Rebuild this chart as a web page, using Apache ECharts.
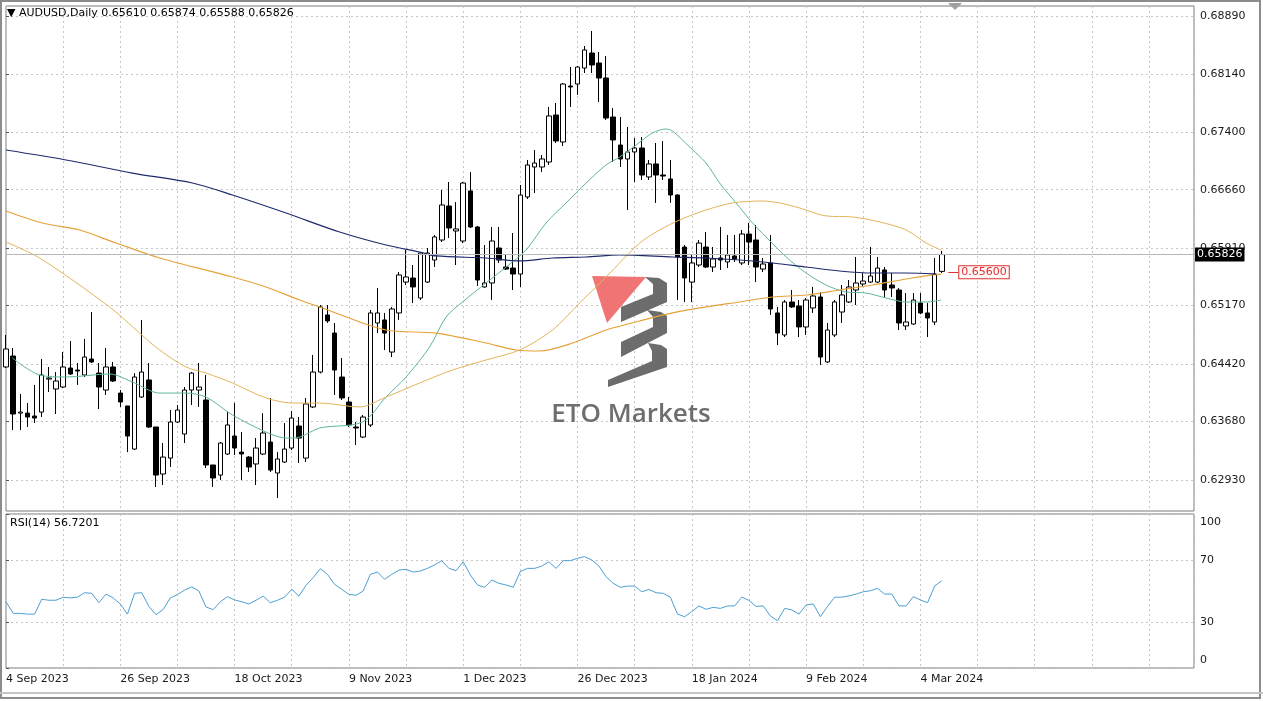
<!DOCTYPE html>
<html><head><meta charset="utf-8">
<style>html,body{margin:0;padding:0;background:#fff}#chart{width:1263px;height:701px}</style>
<script src="https://cdn.jsdelivr.net/npm/echarts@6.0.0/dist/echarts.min.js"></script>
</head><body><div id="chart"></div>
<script>
const symbolName = 'AUDUSD,Daily';
const dateLabels = ['4 Sep 2023','26 Sep 2023','18 Oct 2023','9 Nov 2023','1 Dec 2023','26 Dec 2023','18 Jan 2024','9 Feb 2024','4 Mar 2024'];
const labelStep = 16;
const priceTicks = [0.68890,0.68140,0.67400,0.66660,0.65910,0.65170,0.64420,0.63680,0.62930];
const rsiTicks = [0,30,70,100];
const alertPrice = 0.65600;

const open = [0.64382,0.64523,0.63790,0.63790,0.63752,0.63803,0.64227,0.64099,0.64125,0.64369,
0.64343,0.64279,0.64484,0.64304,0.64086,0.64382,0.64047,0.63881,0.63328,0.63996,
0.64215,0.63611,0.63007,0.63212,0.63675,0.63521,0.64086,0.64086,0.63958,0.63123,
0.62994,0.63264,0.63495,0.63289,0.63225,0.63136,0.63264,0.63418,0.63020,0.63161,
0.63341,0.63624,0.63212,0.63868,0.64317,0.65050,0.64818,0.64253,0.63932,0.63611,
0.63482,0.63637,0.64947,0.64986,0.64574,0.65076,0.65473,0.65525,0.65268,0.65473,
0.65756,0.66013,0.66450,0.66129,0.66000,0.66643,0.66180,0.65410,0.65461,0.65910,
0.65666,0.65653,0.65576,0.66566,0.66951,0.66951,0.67015,0.67619,0.67272,0.67991,
0.68017,0.68222,0.68415,0.68287,0.68094,0.67593,0.67233,0.67054,0.67144,0.67195,
0.66823,0.66990,0.66848,0.66797,0.66591,0.65923,0.65473,0.65692,0.65923,0.65666,
0.65782,0.65731,0.65808,0.65718,0.66090,0.66013,0.65640,0.65718,0.65076,0.64793,
0.65217,0.65165,0.64896,0.65140,0.65281,0.64446,0.64793,0.65088,0.65217,0.65371,
0.65448,0.65473,0.65473,0.65628,0.65435,0.65371,0.64909,0.64934,0.65204,0.65076,
0.64960,0.65610];
const high = [0.64793,0.64626,0.64035,0.63919,0.64151,0.64484,0.64382,0.64317,0.64574,0.64716,
0.64433,0.64742,0.65088,0.64433,0.64626,0.64446,0.64086,0.63881,0.64304,0.64986,
0.64433,0.63611,0.63405,0.63829,0.63894,0.64125,0.64317,0.64433,0.64279,0.63123,
0.63418,0.63803,0.63919,0.63546,0.63238,0.63469,0.63790,0.63984,0.63289,0.63662,
0.63816,0.63739,0.63984,0.64536,0.65178,0.65178,0.64947,0.64497,0.63996,0.63675,
0.63765,0.65114,0.65397,0.65076,0.65153,0.65602,0.65885,0.65692,0.65859,0.65910,
0.66077,0.66656,0.66758,0.66501,0.66758,0.66887,0.66193,0.65949,0.66180,0.66180,
0.65821,0.66103,0.66720,0.67041,0.67169,0.67105,0.67722,0.67773,0.68030,0.68235,
0.68248,0.68505,0.68698,0.68428,0.68377,0.67709,0.67593,0.67465,0.67323,0.67336,
0.67041,0.67259,0.67285,0.67041,0.66600,0.65949,0.65821,0.66013,0.66116,0.65923,
0.66180,0.66077,0.66077,0.66142,0.66232,0.66206,0.65782,0.66077,0.65153,0.65242,
0.65371,0.65242,0.65268,0.65410,0.65345,0.64947,0.65242,0.65435,0.65499,0.65795,
0.65589,0.65923,0.65795,0.65666,0.65589,0.65397,0.65332,0.65332,0.65332,0.65204,
0.65782,0.65874];
const low = [0.64369,0.63572,0.63572,0.63611,0.63662,0.63739,0.64060,0.63778,0.64110,0.64279,
0.64151,0.64253,0.64433,0.63842,0.64022,0.64189,0.63868,0.63289,0.63315,0.63984,
0.63598,0.62840,0.62866,0.63097,0.63662,0.63405,0.63894,0.63868,0.63084,0.62840,
0.62930,0.63251,0.63251,0.62930,0.63033,0.62866,0.63251,0.63033,0.62699,0.63148,
0.63315,0.63148,0.63161,0.63855,0.64300,0.64947,0.64022,0.63958,0.63611,0.63380,
0.63469,0.63611,0.64818,0.64600,0.64510,0.64986,0.65435,0.65203,0.65242,0.65461,
0.65666,0.65987,0.66039,0.65692,0.65974,0.66167,0.65422,0.65400,0.65242,0.65718,
0.65628,0.65371,0.65410,0.66540,0.66617,0.66887,0.66977,0.67259,0.67221,0.67722,
0.67876,0.68158,0.68158,0.67786,0.67555,0.67015,0.66951,0.66399,0.66758,0.66784,
0.66784,0.66489,0.66784,0.66489,0.65242,0.65217,0.65217,0.65666,0.65653,0.65602,
0.65628,0.65653,0.65731,0.65692,0.65692,0.65473,0.65602,0.65050,0.64664,0.64767,
0.65140,0.64767,0.64793,0.65076,0.64407,0.64433,0.64767,0.64947,0.65204,0.65178,
0.65410,0.65461,0.65461,0.65281,0.65281,0.64857,0.64857,0.64922,0.65060,0.64767,
0.64922,0.65588];
const close = [0.64613,0.63778,0.63803,0.63739,0.63726,0.64279,0.64240,0.64202,0.64382,0.64292,
0.64330,0.64510,0.64446,0.64125,0.64382,0.64202,0.63932,0.63495,0.64253,0.64317,
0.63611,0.62994,0.63225,0.63675,0.63829,0.64086,0.64304,0.64125,0.63123,0.62956,
0.63405,0.63637,0.63341,0.63264,0.63097,0.63341,0.63534,0.63058,0.63200,0.63328,
0.63726,0.63469,0.63907,0.64317,0.65153,0.64973,0.64343,0.63984,0.63637,0.63598,
0.63739,0.65076,0.65076,0.64818,0.65127,0.65564,0.65538,0.65410,0.65846,0.65846,
0.66052,0.66463,0.66167,0.66155,0.66745,0.66180,0.65499,0.65461,0.66000,0.65756,
0.65640,0.65576,0.66591,0.66977,0.67002,0.67054,0.67606,0.67285,0.68017,0.67979,
0.68235,0.68454,0.68261,0.68094,0.67580,0.67298,0.67054,0.67144,0.67195,0.66848,
0.66990,0.66848,0.66835,0.66591,0.65795,0.65525,0.65718,0.65974,0.65666,0.65769,
0.65756,0.65821,0.65769,0.66090,0.65987,0.65666,0.65705,0.65127,0.64818,0.65217,
0.65153,0.64896,0.65242,0.65294,0.64510,0.64857,0.65217,0.65307,0.65410,0.65461,
0.65486,0.65551,0.65653,0.65371,0.65397,0.64947,0.64960,0.65242,0.65076,0.65011,
0.65576,0.65826];

const rsiValues = [43,35.5,35.5,35,35,44.6,44,44,45.9,45.5,
46,48.9,48.5,42.4,48,45.5,41.6,35,48.5,48.9,
40,34.6,38,45.5,47.7,50.6,52.7,50,39.6,37.9,
43,46.3,44.2,43,41.6,44,46.7,42.4,44,46,
51.1,46.7,53.7,58.7,64.5,60.8,54.3,51.1,47.8,47.2,
50,60.8,62.3,57.6,60.8,63.6,64.1,62.3,63,64.7,
66.9,69.7,64.7,63.2,69,60.4,53.9,52.4,57.1,55,
53.9,52.4,62.6,64.7,64.7,66.2,69,64.7,69.7,69.7,
71.2,72.3,70.1,66.2,59.3,55,52.4,53.2,53.2,49.5,
51,48.9,48.5,46,35,33.3,36.6,40.3,38.1,39.4,
38.7,40.3,40.3,46,43.9,40,40.3,33.8,30.7,38.7,
37.7,35,40.9,41.6,33.3,40,46,46,46.8,48,
49.5,50.2,51.7,48,48,40.3,40.3,46.3,44.2,42.4,
53.2,56.7201];

// moving averages: [bar index, price]
const maFast = [[0.9,0.64497],[4.7,0.64279],[8.4,0.64253],[14.5,0.64292],[17.7,0.64189],[21.5,0.64047],[25.2,0.64047],[28.0,0.63996],[31.7,0.63765],[36.4,0.63546],[39.2,0.63469],[41.1,0.63482],[43.9,0.63598],[49.9,0.63675],[53.2,0.63996],[56.0,0.64253],[59.3,0.64639],[61.6,0.65024],[63.9,0.65217],[67.2,0.65461],[70.0,0.65666],[72.8,0.65885],[75.6,0.66232],[78.4,0.66489],[81.2,0.66745],[84.0,0.66977],[85.9,0.67079],[88.2,0.67233],[90.5,0.67388],[92.4,0.67439],[93.3,0.67413],[95.7,0.67208],[98.0,0.67002],[99.9,0.66745],[102.2,0.66489],[104.5,0.66232],[106.4,0.66052],[109.2,0.65795],[112.0,0.65589],[114.8,0.65435],[117.6,0.65345],[120.4,0.65332],[123.2,0.65268],[126.0,0.65217],[128.8,0.65217],[130.9,0.65242]];
const maMid = [[0,0.65987],[4.7,0.65782],[14.5,0.65153],[18.7,0.64818],[21.5,0.64600],[25.2,0.64382],[28.0,0.64304],[31.7,0.64176],[36.4,0.63984],[40.1,0.63919],[43.9,0.63919],[49.5,0.63868],[53.2,0.63996],[57.9,0.64176],[62.5,0.64343],[67.2,0.64472],[71.9,0.64600],[76.5,0.64857],[80.3,0.65204],[84.0,0.65538],[88.7,0.65974],[91.5,0.66142],[94.3,0.66270],[98.0,0.66399],[101.7,0.66489],[105.9,0.66514],[108.3,0.66489],[111.1,0.66424],[114.8,0.66322],[118.5,0.66309],[122.3,0.66245],[126.0,0.66142],[128.8,0.65974],[130.9,0.65885]];
const maSlow = [[0,0.66386],[5.1,0.66232],[10.3,0.66142],[15.4,0.65974],[21.5,0.65782],[31.7,0.65538],[36.4,0.65410],[41.1,0.65242],[43.9,0.65153],[53.2,0.64857],[60.2,0.64818],[67.2,0.64690],[71.4,0.64600],[74.7,0.64587],[79.3,0.64690],[84.0,0.64857],[88.7,0.64973],[93.3,0.65076],[98.0,0.65153],[102.7,0.65217],[107.3,0.65281],[112.0,0.65307],[116.7,0.65371],[121.3,0.65435],[126.0,0.65512],[129.7,0.65564],[130.9,0.65576]];
const maLong = [[0,0.67169],[8.4,0.67041],[17.7,0.66873],[26.1,0.66745],[31.7,0.66591],[39.2,0.66360],[46.7,0.66116],[53.2,0.65949],[57.9,0.65859],[60.2,0.65808],[67.2,0.65782],[71.9,0.65744],[76.5,0.65782],[81.2,0.65795],[85.9,0.65821],[93.3,0.65795],[98.0,0.65782],[102.7,0.65756],[107.3,0.65718],[112.0,0.65666],[116.7,0.65615],[121.3,0.65589],[126.0,0.65589],[130.2,0.65576]];

const N = close.length;
const candles = open.map((o, i) => [i, o, close[i], low[i], high[i]]);
const rsiData = rsiValues.map((v, i) => [i, v]);
const FONT = 'DejaVu Sans';
const TXT = '#1a1a1a';

const chart = echarts.init(document.getElementById('chart'), null, {renderer: 'canvas', width: 1263, height: 701});
const gridLine = {show: true, lineStyle: {color: '#c6c6c6', type: [2, 3], width: 1}};
const lbl = {fontFamily: FONT, fontSize: 11, color: TXT};

const option = {
  animation: false,
  backgroundColor: '#ffffff',
  title: [
    {text: '\u25BC ' + symbolName + ' ' + [open[N-1], high[N-1], low[N-1], close[N-1]].map(v => v.toFixed(5)).join(' '),
     left: 7, top: 8, padding: 0, textStyle: {fontFamily: FONT, fontSize: 11, fontWeight: 'normal', color: '#000'}},
    {text: 'RSI(14) ' + rsiValues[N-1].toFixed(4), left: 10, top: 518, padding: 0,
     textStyle: {fontFamily: FONT, fontSize: 11, fontWeight: 'normal', color: '#000'}}
  ],
  grid: [
    {left: 6, top: 6, width: 1188, height: 505, show: true, borderColor: '#7a7a7a', borderWidth: 1},
    {left: 6, top: 514, width: 1188, height: 154, show: true, borderColor: '#7a7a7a', borderWidth: 1}
  ],
  xAxis: [
    {type: 'value', gridIndex: 0, min: 0, max: 166.3, interval: 8,
     axisLine: {show: false}, axisTick: {show: false}, axisLabel: {show: false}, splitLine: gridLine},
    {type: 'value', gridIndex: 1, min: 0, max: 166.3, interval: 8,
     axisLine: {show: false}, axisTick: {show: false},
     axisLabel: Object.assign({show: true, align: 'left', margin: 6, showMinLabel: true, showMaxLabel: false,
       formatter: v => (v % labelStep === 0 && dateLabels[v / labelStep]) ? dateLabels[v / labelStep] : ''}, lbl),
     splitLine: gridLine}
  ],
  yAxis: [
    {type: 'value', gridIndex: 0, position: 'right', min: 0.62532, max: 0.69019,
     axisLine: {show: false},
     axisTick: {show: true, customValues: priceTicks, length: 3, lineStyle: {color: '#555'}},
     axisLabel: Object.assign({customValues: priceTicks, margin: 6, formatter: v => v.toFixed(5)}, lbl),
     splitLine: gridLine},
    {type: 'value', gridIndex: 1, position: 'right', min: 0, max: 100,
     axisLine: {show: false},
     axisTick: {show: true, customValues: rsiTicks, length: 3, lineStyle: {color: '#555'}},
     axisLabel: Object.assign({customValues: rsiTicks, margin: 6,
       formatter: v => v === 100 ? '{dn|100}' : (v === 0 ? '{up|0}' : String(v)),
       rich: {dn: {padding: [16, 0, 0, 0], fontFamily: FONT, fontSize: 11, color: TXT},
              up: {padding: [0, 0, 16, 0], fontFamily: FONT, fontSize: 11, color: TXT}}}, lbl),
     splitLine: gridLine}
  ],
  series: [
    {type: 'candlestick', name: 'price', xAxisIndex: 0, yAxisIndex: 0, z: 2,
     data: candles, encode: {x: 0, y: [1, 2, 3, 4]}, barWidth: 5,
     itemStyle: {color: '#ffffff', color0: '#000000', borderColor: '#000000', borderColor0: '#000000', borderWidth: 1},
     markLine: {
       silent: true, symbol: ['none', 'none'], animation: false, precision: 5,
       data: [
         {yAxis: close[N-1], lineStyle: {color: '#b8b8b8', type: 'solid', width: 1},
          label: {show: true, position: 'end', distance: 1, formatter: close[N-1].toFixed(5),
                  backgroundColor: '#000', color: '#fff', padding: [2, 2, 1, 2], fontFamily: FONT, fontSize: 11}},
         [{coord: [131.9, alertPrice], lineStyle: {color: '#e03030', type: 'solid', width: 1},
           label: {show: true, position: 'end', distance: 1, formatter: alertPrice.toFixed(5),
                   backgroundColor: '#fff8f8', borderColor: '#e03030', borderWidth: 1, color: '#e03030',
                   padding: [1, 2, 0, 2], fontFamily: FONT, fontSize: 11}},
          {coord: [133.3, alertPrice]}]
       ]
     }},
    {type: 'line', name: 'MA fast', xAxisIndex: 0, yAxisIndex: 0, z: 3, data: maFast, showSymbol: false, smooth: 0.3,
     lineStyle: {color: '#5fb6a0', width: 1}},
    {type: 'line', name: 'MA mid', xAxisIndex: 0, yAxisIndex: 0, z: 3, data: maMid, showSymbol: false, smooth: 0.3,
     lineStyle: {color: '#e4b45c', width: 1}},
    {type: 'line', name: 'MA slow', xAxisIndex: 0, yAxisIndex: 0, z: 3, data: maSlow, showSymbol: false, smooth: 0.3,
     lineStyle: {color: '#e6a23a', width: 1.2}},
    {type: 'line', name: 'MA long', xAxisIndex: 0, yAxisIndex: 0, z: 3, data: maLong, showSymbol: false, smooth: 0.3,
     lineStyle: {color: '#1e2a6c', width: 1.2}},
    {type: 'line', name: 'RSI', xAxisIndex: 1, yAxisIndex: 1, z: 3, data: rsiData, showSymbol: false,
     lineStyle: {color: '#4c9fd4', width: 1}}
  ],
  graphic: [
    {type: 'rect', silent: true, z: 100, shape: {x: 1, y: 1, width: 1259, height: 697}, style: {fill: 'none', stroke: '#8c8c8c', lineWidth: 2}},
    {type: 'line', silent: true, z: 100, shape: {x1: 0, y1: 693, x2: 1263, y2: 693}, style: {stroke: '#c4c4c4', lineWidth: 2}},
    {type: 'polygon', silent: true, z: 100, shape: {points: [[948, 3], [962, 3], [955, 10]]}, style: {fill: '#a0a0a0'}},
    {type: 'group', silent: true, z: 1, children: [
      {type: 'polygon', z: 1, shape: {points: [[592, 276], [646, 277], [607, 323]]}, style: {fill: '#f07474'}},
      {type: 'polygon', z: 1, shape: {points: [[645, 277], [659, 278], [667, 283], [667, 302], [621, 322], [621, 307], [653, 294], [653, 284]]}, style: {fill: '#6c6c6c'}},
      {type: 'polygon', z: 1, shape: {points: [[647, 310], [661, 312], [667, 316], [667, 333], [621, 357], [621, 342], [653, 327], [653, 317]]}, style: {fill: '#6c6c6c'}},
      {type: 'polygon', z: 1, shape: {points: [[648, 343], [661, 345], [667, 349], [667, 367], [608, 387], [608, 380], [652, 361], [652, 351]]}, style: {fill: '#6c6c6c'}},
      {type: 'text', z: 1, x: 631, y: 415, style: {text: 'ETO Markets', fontFamily: 'Open Sans', fontWeight: 600, fontSize: 26, fill: '#6e6e6e', align: 'center', verticalAlign: 'middle'}}
    ]}
  ]
};
chart.setOption(option);
</script>
</body></html>
